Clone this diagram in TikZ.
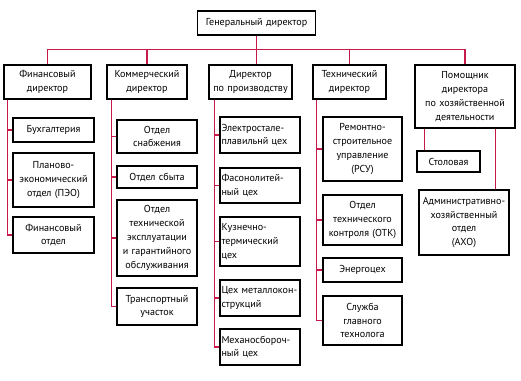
\documentclass[tikz,border=0pt]{standalone}
\usepackage{fontspec}
\setmainfont{PT Sans}
\definecolor{lnred}{RGB}{200,25,75}
\begin{document}
\begin{tikzpicture}[x=1pt,y=-1pt,
  bx/.style n args={3}{draw=black, line width=1.2pt, fill=white, inner xsep=1.5pt, inner ysep=0pt,
     minimum width=#1pt, minimum height=#2pt, text width=#3pt, align=center,
     font=\fontsize{10.1}{13.8}\selectfont},
  bl/.style n args={3}{bx={#1}{#2}{#3}, align=left},
  conn/.style={draw=lnred, line width=1.5pt}]
\useasboundingbox (0,0) rectangle (521,380);

\node[bx={118}{24}{115}] (gen) at (256.5,23) {Генеральный директор};

\node[bx={87}{34}{84}] (fin) at (47.5,82) {Финансовый\\директор};
\node[bx={80}{34}{77}] (com) at (147,82) {Коммерческий\\директор};
\node[bx={83}{34}{80}] (prod) at (250.5,82) {Директор\\по производству};
\node[bx={73}{34}{70}] (tech) at (349.5,82) {Технический\\директор};
\node[bx={100}{63}{97}] (asst) at (465,96.5) {Помощник\\директора\\по хозяйственной\\деятельности};

\node[bx={81}{24}{78}] (buh) at (53.5,130) {Бухгалтерия};
\node[bx={81}{54}{78}] (peo) at (53.5,180) {Планово-\\экономический\\отдел (ПЭО)};
\node[bx={81}{36}{78}] (fo) at (53.5,235) {Финансовый\\отдел};

\node[bx={80}{33}{77}] (snab) at (157,136.5) {Отдел\\снабжения};
\node[bx={80}{22}{77}] (sbyt) at (157,177) {Отдел сбыта};
\node[bx={80}{76}{77}] (texp) at (157,238) {Отдел\\технической\\эксплуатации\\и гарантийного\\обслуживания};
\node[bx={80}{37}{77}] (trans) at (157,306.5) {Транспортный\\участок};

\node[bl={80}{36}{77}] (e1) at (260,135) {Электростале-\\плавильнй цех};
\node[bl={80}{35}{77}] (e2) at (260,185.5) {Фасонолитей-\\ный цех};
\node[bl={80}{49}{77}] (e3) at (260,241.5) {Кузнечно-\\термический\\цех};
\node[bl={80}{36}{77}] (e4) at (260,298) {Цех металлокон-\\струкций};
\node[bl={80}{36}{77}] (e5) at (260,347) {Механосбороч-\\ный цех};

\node[bx={79}{64}{76}] (rsu) at (362.5,149) {Ремонтно-\\строительное\\управление\\(РСУ)};
\node[bx={79}{50}{76}] (otk) at (362.5,220) {Отдел\\технического\\контроля (ОТК)};
\node[bx={79}{24}{76}] (energ) at (362.5,270) {Энергоцех};
\node[bx={79}{49}{76}] (sluzh) at (362.5,320.5) {Служба\\главного\\технолога};

\node[bx={63}{21}{60}] (stol) at (448.5,161.5) {Столовая};
\node[bx={90}{65}{87}] (axo) at (464,222.5) {Административно-\\хозяйственный\\отдел\\(АХО)};

% top bus
\draw[conn] (gen.south) -- (gen.south |- prod.north);
\draw[conn] (fin.north) -- ++(0,-15) -| (asst.north);
\draw[conn] (com.north) -- ++(0,-15);
\draw[conn] (tech.north) -- ++(0,-15);

% finance
\draw[conn] ([xshift=4pt]fin.south west) |- (fo.west);
\draw[conn] ([xshift=4pt]fin.south west |- buh.west) -- (buh.west);
\draw[conn] ([xshift=4pt]fin.south west |- peo.west) -- (peo.west);

% commercial
\draw[conn] ([xshift=5pt]com.south west) |- (trans.west);
\draw[conn] ([xshift=5pt]com.south west |- snab.west) -- (snab.west);
\draw[conn] ([xshift=5pt]com.south west |- sbyt.west) -- (sbyt.west);
\draw[conn] ([xshift=5pt]com.south west |- texp.west) -- (texp.west);

% production
\draw[conn] ([xshift=6pt]prod.south west) |- (e5.west);
\draw[conn] ([xshift=6pt]prod.south west |- e1.west) -- (e1.west);
\draw[conn] ([xshift=6pt]prod.south west |- e2.west) -- (e2.west);
\draw[conn] ([xshift=6pt]prod.south west |- e3.west) -- (e3.west);
\draw[conn] ([xshift=6pt]prod.south west |- e4.west) -- (e4.west);

% technical
\draw[conn] ([xshift=4pt]tech.south west) |- (sluzh.west);
\draw[conn] ([xshift=4pt]tech.south west |- rsu.west) -- (rsu.west);
\draw[conn] ([xshift=4pt]tech.south west |- otk.west) -- (otk.west);
\draw[conn] ([xshift=4pt]tech.south west |- energ.west) -- (energ.west);

% assistant
\draw[conn] ([xshift=10pt]asst.south west) -- ([xshift=10pt]asst.south west |- stol.north);
\draw[conn] ([xshift=-20pt]asst.south east) -- ([xshift=-20pt]asst.south east |- axo.north);
\end{tikzpicture}
\end{document}
